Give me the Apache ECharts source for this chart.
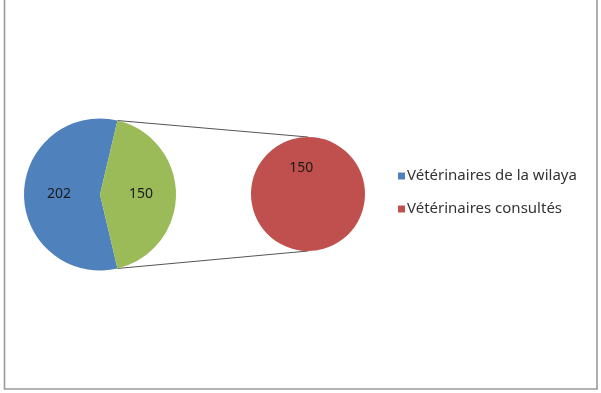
<!DOCTYPE html>
<html>
<head>
<meta charset="utf-8">
<script src="https://cdn.jsdelivr.net/npm/echarts@6/dist/echarts.min.js"></script>
<style>html,body{margin:0;padding:0;background:#fff;}#c{width:601px;height:393px;}</style>
</head>
<body>
<div id="c"></div>
<script>
// Data
var mainNames = ['Vétérinaires de la wilaya', 'Vétérinaires consultés'];
var mainValues = [202, 150];
var secondaryNames = ['Vétérinaires consultés'];
var secondaryValues = [150];
var colors = ['#4F81BD', '#9BBB59', '#C0504D'];

var chart = echarts.init(document.getElementById('c'), null, {renderer: 'canvas'});

// Layout
var leftC = [100, 194.5], leftR = 76;
var rightC = [308, 194], rightR = 57;

var total = mainValues[0] + mainValues[1];
var splitAngle = mainValues[1] / total * 360; // green slice extent
var half = splitAngle / 2 * Math.PI / 180;
var topPt = [leftC[0] + leftR * Math.cos(half), leftC[1] - leftR * Math.sin(half)];
var botPt = [leftC[0] + leftR * Math.cos(half), leftC[1] + leftR * Math.sin(half)];

var labelStyle = {show: true, position: 'inside', formatter: '{c}', color: '#1a1a1a',
  fontFamily: 'Noto Sans', fontSize: 14};

chart.setOption({
  backgroundColor: '#ffffff',
  animation: false,
  legend: {
    orient: 'vertical', left: 393, top: 162,
    data: [
      {name: mainNames[0], itemStyle: {color: colors[0]}},
      {name: secondaryNames[0], itemStyle: {color: colors[2]}}
    ],
    icon: 'rect', itemWidth: 7, itemHeight: 7, itemGap: 15,
    textStyle: {fontFamily: 'Noto Sans', fontSize: 15, color: '#333', lineHeight: 18, padding: [0, 0, 0, -3]},
    selectedMode: false
  },
  graphic: [
    {type: 'line', shape: {x1: topPt[0], y1: topPt[1], x2: rightC[0], y2: rightC[1] - rightR},
      style: {stroke: '#555', lineWidth: 1}, z: 0},
    {type: 'line', shape: {x1: botPt[0], y1: botPt[1], x2: rightC[0], y2: rightC[1] + rightR},
      style: {stroke: '#555', lineWidth: 1}, z: 0},
    {type: 'rect', shape: {x: 4.5, y: -10, width: 592.5, height: 399},
      style: {fill: 'none', stroke: '#9a9a9a', lineWidth: 1.6}, z: 0}
  ],
  series: [
    {
      type: 'pie', center: leftC, radius: leftR,
      startAngle: 360 - splitAngle / 2, clockwise: true,
      label: labelStyle, labelLine: {show: false},
      itemStyle: {borderWidth: 0},
      emphasis: {disabled: true},
      data: [
        {name: mainNames[0], value: mainValues[0], itemStyle: {color: colors[0]}},
        {name: 'Autre', value: mainValues[1], itemStyle: {color: colors[1]}}
      ],
      z: 2
    },
    {
      type: 'pie', center: rightC, radius: rightR,
      startAngle: 286, clockwise: true,
      label: Object.assign({}, labelStyle, {offset: [2, 4]}), labelLine: {show: false},
      itemStyle: {borderWidth: 0},
      emphasis: {disabled: true},
      data: [
        {name: secondaryNames[0], value: secondaryValues[0], itemStyle: {color: colors[2]}}
      ],
      z: 2
    }
  ]
});
</script>
</body>
</html>
